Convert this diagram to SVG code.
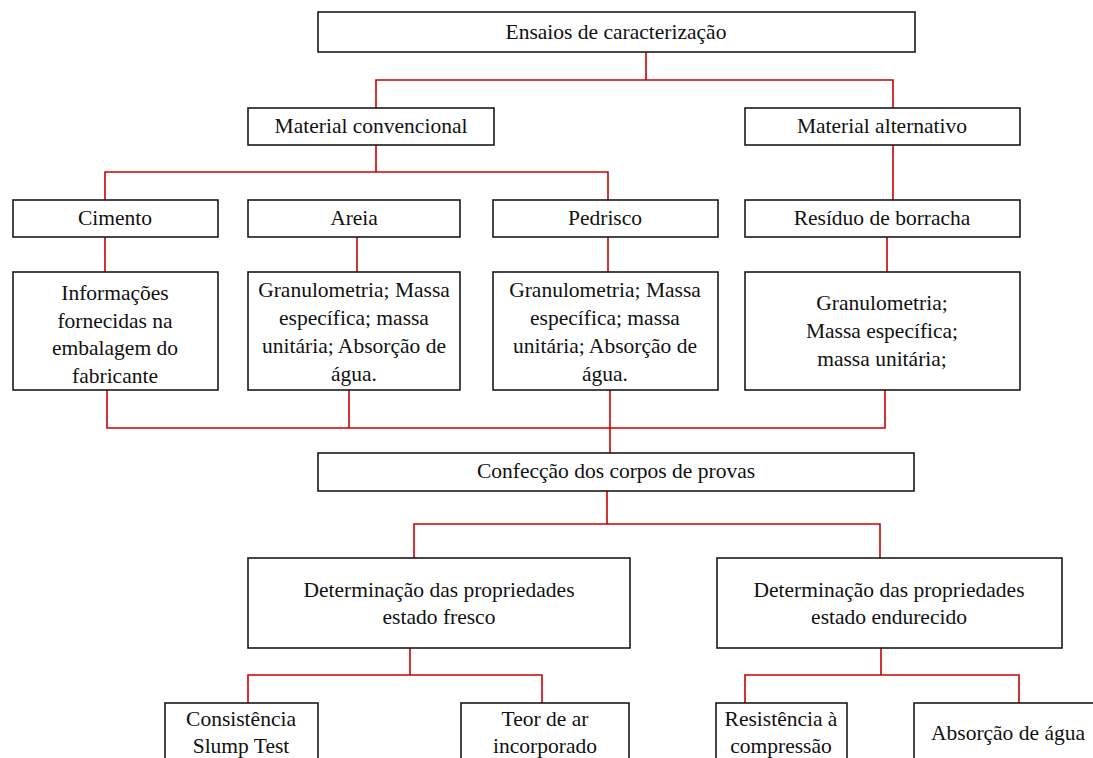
<svg xmlns="http://www.w3.org/2000/svg" width="1093" height="758" viewBox="0 0 1093 758">
<style>
.box{fill:#fff;stroke:#1a1a1a;stroke-width:1.6}
.t{font-family:"Liberation Serif","Times New Roman",serif;font-size:21.5px;fill:#111;text-anchor:middle}
.c{fill:none;stroke:#cc0000;stroke-width:1.6}
</style>
<rect width="1093" height="758" fill="#fff"/>
<g id="connectors">
<path class="c" d="M646,52V80M376,108V80H893V108"/>
<path class="c" d="M376,145V172M105,200V172H608V200"/>
<path class="c" d="M893,145V200"/>
<path class="c" d="M105,237V272M357,237V272M608,237V272M887,237V272"/>
<path class="c" d="M107,390V428H885V390M349,390V428M610,390V453"/>
<path class="c" d="M607,491V524M414,558V524H880V558"/>
<path class="c" d="M410,648V675M248,703V675H542V703"/>
<path class="c" d="M881,648V675M745,703V675H1019V703"/>
</g>
<g id="n1"><rect class="box" x="318" y="12" width="597" height="40"/><text class="t" x="616" y="39">Ensaios de caracterização</text></g>
<g id="n2"><rect class="box" x="248" y="108" width="246" height="37"/><text class="t" x="371" y="133">Material convencional</text></g>
<g id="n3"><rect class="box" x="745" y="108" width="275" height="37"/><text class="t" x="882" y="133">Material alternativo</text></g>
<g id="n4"><rect class="box" x="13" y="200" width="205" height="37"/><text class="t" x="115" y="225">Cimento</text></g>
<g id="n5"><rect class="box" x="248" y="200" width="212" height="37"/><text class="t" x="354" y="225">Areia</text></g>
<g id="n6"><rect class="box" x="493" y="200" width="225" height="37"/><text class="t" x="605" y="225">Pedrisco</text></g>
<g id="n7"><rect class="box" x="745" y="200" width="275" height="37"/><text class="t" x="882" y="225">Resíduo de borracha</text></g>
<g id="n8"><rect class="box" x="13" y="272" width="205" height="118"/><text class="t" x="115"><tspan x="115" y="300">Informações</tspan><tspan x="115" y="327.5">fornecidas na</tspan><tspan x="115" y="355">embalagem do</tspan><tspan x="115" y="382.5">fabricante</tspan></text></g>
<g id="n9"><rect class="box" x="248" y="272" width="212" height="118"/><text class="t"><tspan x="354" y="297">Granulometria; Massa</tspan><tspan x="354" y="325">específica; massa</tspan><tspan x="354" y="353">unitária; Absorção de</tspan><tspan x="354" y="381">água.</tspan></text></g>
<g id="n10"><rect class="box" x="493" y="272" width="225" height="118"/><text class="t"><tspan x="605" y="297">Granulometria; Massa</tspan><tspan x="605" y="325">específica; massa</tspan><tspan x="605" y="353">unitária; Absorção de</tspan><tspan x="605" y="381">água.</tspan></text></g>
<g id="n11"><rect class="box" x="745" y="272" width="275" height="118"/><text class="t"><tspan x="882" y="310">Granulometria;</tspan><tspan x="882" y="338">Massa específica;</tspan><tspan x="882" y="366">massa unitária;</tspan></text></g>
<g id="n12"><rect class="box" x="318" y="453" width="596" height="38"/><text class="t" x="616" y="478">Confecção dos corpos de provas</text></g>
<g id="n13"><rect class="box" x="248" y="558" width="382" height="90"/><text class="t"><tspan x="439" y="597">Determinação das propriedades</tspan><tspan x="439" y="624">estado fresco</tspan></text></g>
<g id="n14"><rect class="box" x="717" y="558" width="345" height="90"/><text class="t"><tspan x="889" y="597">Determinação das propriedades</tspan><tspan x="889" y="624">estado endurecido</tspan></text></g>
<g id="n15"><rect class="box" x="165" y="703" width="153" height="70"/><text class="t"><tspan x="241" y="726">Consistência</tspan><tspan x="241" y="753">Slump Test</tspan></text></g>
<g id="n16"><rect class="box" x="461" y="703" width="168" height="70"/><text class="t"><tspan x="545" y="726">Teor de ar</tspan><tspan x="545" y="753">incorporado</tspan></text></g>
<g id="n17"><rect class="box" x="716" y="703" width="131" height="70"/><text class="t"><tspan x="781" y="726">Resistência à</tspan><tspan x="781" y="753">compressão</tspan></text></g>
<g id="n18"><rect class="box" x="914" y="703" width="190" height="70"/><text class="t" x="1008" y="740">Absorção de água</text></g>
</svg>
